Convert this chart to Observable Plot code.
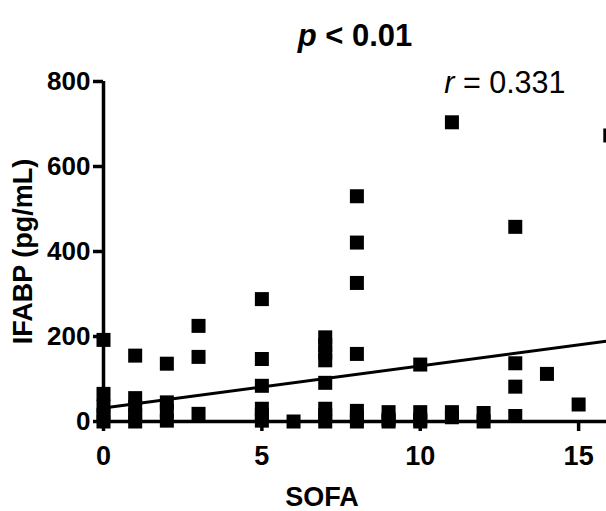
<!DOCTYPE html>
<html><head><meta charset="utf-8">
<script src="https://cdn.jsdelivr.net/npm/d3@7"></script>
<script src="https://cdn.jsdelivr.net/npm/@observablehq/plot@0.6"></script>
<style>html,body{margin:0;padding:0;overflow:hidden;background:#fff}</style>
</head><body><div id="chart"></div>
<script>
// SOFA score (x) and IFABP concentration in pg/mL (y)
const sofa  = [0,0,0,0,0, 1,1,1,1,1, 2,2,2,2, 3,3,3, 5,5,5,5,5,5, 6,
               7,7,7,7,7,7,7,7, 8,8,8,8,8,8,8, 9,9,9, 10,10,10,10, 11,11,11,
               12,12, 13,13,13,13, 14, 15, 16];
const ifabp = [192,65,35,15,0, 155,55,35,15,0, 136,45,25,2, 225,152,18, 288,147,84,30,15,2, 0,
               198,180,162,144,91,30,15,0, 530,421,326,159,25,10,0, 22,5,0, 134,22,5,0, 704,22,10,
               20,0, 458,137,82,13, 112, 40, 673];
const xTicks = [0, 5, 10, 15];
const yTicks = [0, 200, 400, 600, 800];
const titleItalic = "p";
const titleRest = " < 0.01";
const rItalic = "r";
const rRest = " = 0.331";
const xLabel = "SOFA";
const yLabel = "IFABP (pg/mL)";
const fitIntercept = 32;
const fitSlope = 9.9;
const xMax = 15.88;
const yMax = 800;

const points = sofa.map((s, i) => ({sofa: s, ifabp: ifabp[i]}));
const fit = [0, xMax].map(x => ({sofa: x, ifabp: fitIntercept + fitSlope * x}));

const font = "'Liberation Sans', Arial, Helvetica, sans-serif";

const chart = Plot.plot({
  width: 606, height: 511,
  marginTop: 81, marginBottom: 90, marginLeft: 103, marginRight: 0,
  x: {domain: [0, xMax]},
  y: {domain: [0, yMax]},
  style: {fontFamily: font, color: "#000", background: "#fff", overflow: "hidden"},
  marks: [
    Plot.dot(points, {x: "sofa", y: "ifabp", symbol: "square", r: 7.9, fill: "#000", stroke: null}),
    Plot.line(fit, {x: "sofa", y: "ifabp", stroke: "#000", strokeWidth: 3}),
    Plot.ruleX([0], {y1: 0, y2: yMax, stroke: "#000", strokeWidth: 3.5}),
    Plot.ruleY([0], {x1: 0, x2: xMax, stroke: "#000", strokeWidth: 3.5}),
    Plot.axisY({ticks: yTicks, tickSize: 10, tickPadding: 3, fontSize: 26, fontWeight: "bold",
                strokeWidth: 3.5, label: null}),
    Plot.axisX({ticks: xTicks, tickSize: 10, tickPadding: 14, fontSize: 27, fontWeight: "bold",
                strokeWidth: 3.5, label: null}),
    Plot.text([titleItalic + titleRest], {frameAnchor: "top", lineAnchor: "bottom", dy: -36,
               fontSize: 31, fontWeight: "bold", className: "ttl"}),
    Plot.text([rItalic + rRest], {frameAnchor: "top-right", textAnchor: "end", lineAnchor: "bottom",
               dx: -41, dy: 11, fontSize: 30.5, className: "rlab"}),
    Plot.text([yLabel], {frameAnchor: "left", textAnchor: "middle", rotate: -90, dx: -80,
               fontSize: 27, fontWeight: "bold"}),
    Plot.text([xLabel], {frameAnchor: "bottom", lineAnchor: "bottom", dx: -33, dy: 84,
               fontSize: 27, fontWeight: "bold"})
  ]
});

function styleMixed(sel, italicPart, rest) {
  chart.querySelectorAll(sel + " text").forEach(t => {
    t.textContent = "";
    const a = document.createElementNS("http://www.w3.org/2000/svg", "tspan");
    a.setAttribute("font-style", "italic");
    a.textContent = italicPart;
    const b = document.createElementNS("http://www.w3.org/2000/svg", "tspan");
    b.textContent = rest;
    t.appendChild(a); t.appendChild(b);
  });
}
styleMixed(".ttl", titleItalic, titleRest);
styleMixed(".rlab", rItalic, rRest);

document.getElementById("chart").appendChild(chart);
</script>
</body></html>
